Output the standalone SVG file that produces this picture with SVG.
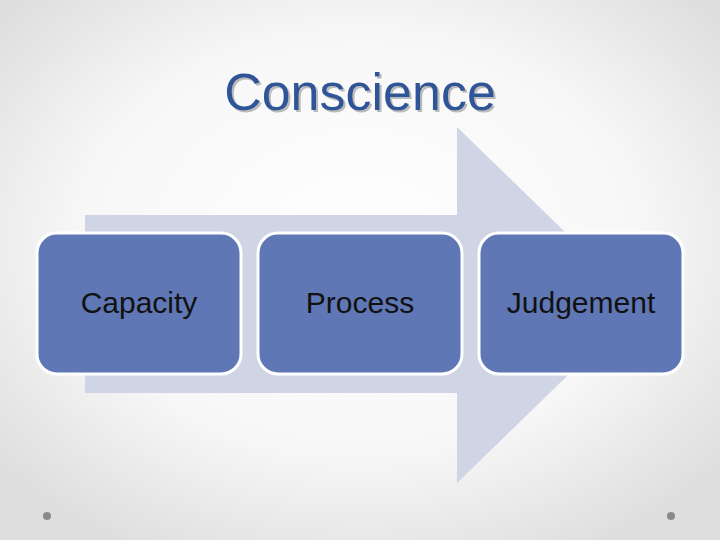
<svg xmlns="http://www.w3.org/2000/svg" width="720" height="540" viewBox="0 0 720 540">
<defs>
<radialGradient id="bg" cx="50%" cy="45%" r="65%">
<stop offset="0" stop-color="#ffffff"/><stop offset="0.6" stop-color="#f7f7f7"/><stop offset="1" stop-color="#dedede"/>
</radialGradient>
<filter id="sh" x="-10%" y="-20%" width="120%" height="140%"><feDropShadow dx="2" dy="2" stdDeviation="0.5" flood-color="#bbbbbb"/></filter>
<style>
.box{fill:#6077b5;stroke:#ffffff;stroke-width:3}
.lbl{font-family:"Liberation Sans",Arial,sans-serif;font-size:30px;fill:#111;text-anchor:middle}
.ttl{font-family:"Liberation Sans",Arial,sans-serif;font-size:52px;text-anchor:middle}
.dot{fill:#8a8a8a}
</style>
</defs>
<rect width="720" height="540" fill="url(#bg)"/>
<text class="ttl" x="360" y="110" fill="#2f5597" filter="url(#sh)">Conscience</text>
<polygon points="85,215 457,215 457,127 640,305 457,483 457,393 85,393" fill="#d0d5e6"/>
<g id="capacity"><rect class="box" x="37" y="233" width="204" height="141" rx="20"/><text class="lbl" x="139" y="313">Capacity</text></g>
<g id="process"><rect class="box" x="258" y="233" width="204" height="141" rx="20"/><text class="lbl" x="360" y="313">Process</text></g>
<g id="judgement"><rect class="box" x="479" y="233" width="204" height="141" rx="20"/><text class="lbl" x="581" y="313">Judgement</text></g>
<g id="connectors"></g>
<circle class="dot" cx="47" cy="516" r="4"/>
<circle class="dot" cx="671" cy="516" r="4"/>
</svg>
